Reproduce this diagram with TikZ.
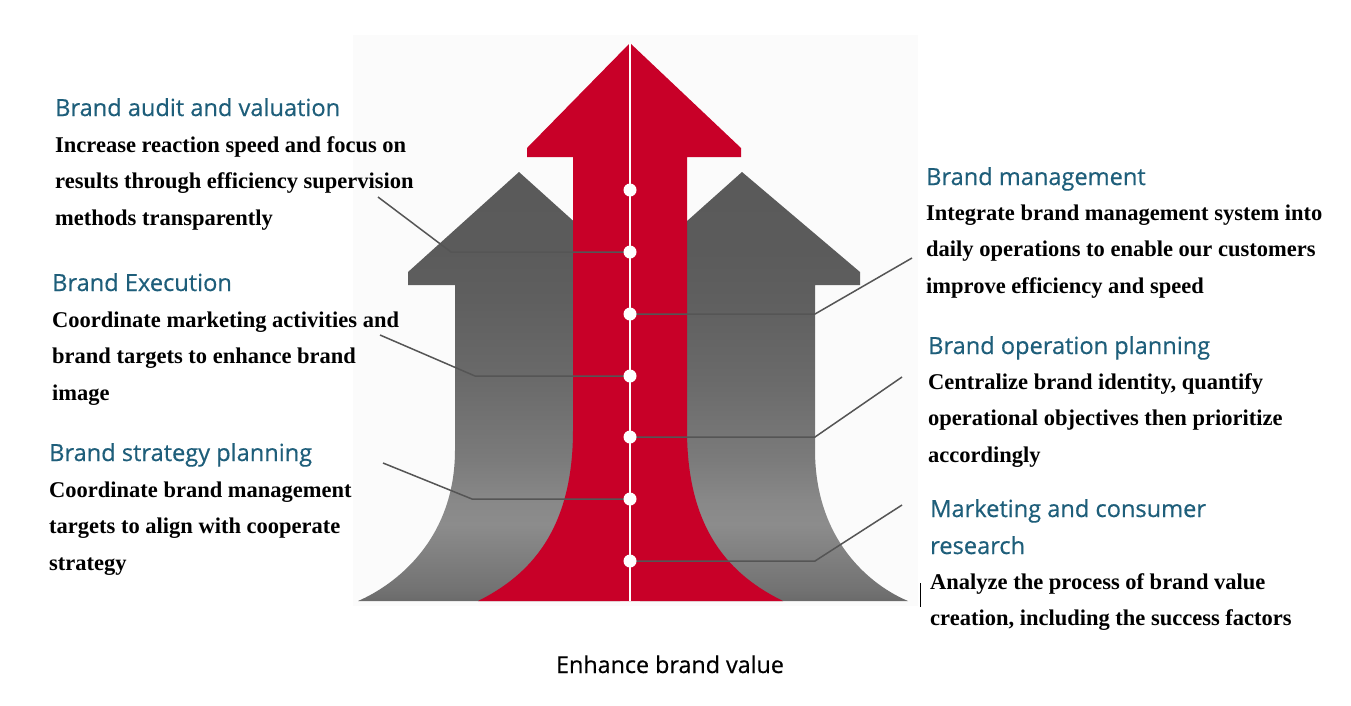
\documentclass[tikz,border=0pt]{standalone}
\usepackage{fontspec}
\setmainfont{Liberation Serif}
\newfontfamily\titlefont[FakeBold=0.5]{Open Sans}
\definecolor{titleblue}{RGB}{30,94,122}
\definecolor{arrowred}{RGB}{200,0,40}
\definecolor{linegray}{RGB}{85,85,85}
\definecolor{bgfaint}{RGB}{251,251,251}
\definecolor{gA}{HTML}{6A6A6A}
\definecolor{gB}{HTML}{727272}
\definecolor{gC}{HTML}{7E7E7E}
\definecolor{gD}{HTML}{8C8C8C}
\definecolor{gE}{HTML}{888888}
\definecolor{gF}{HTML}{7B7B7B}
\definecolor{gG}{HTML}{6A6A6A}
\definecolor{gH}{HTML}{5F5F5F}
\definecolor{gI}{HTML}{5B5B5B}
\definecolor{gJ}{HTML}{5A5A5A}
\pgfdeclareverticalshading{grayflare}{100bp}{color(0bp)=(gA); color(25bp)=(gA); color(26.3bp)=(gB); color(29.8bp)=(gC); color(33.9bp)=(gD); color(36.8bp)=(gE); color(41.4bp)=(gF); color(50.8bp)=(gG); color(60.1bp)=(gH); color(65.9bp)=(gI); color(75bp)=(gJ); color(100bp)=(gJ)}
\tikzset{
  titletext/.style={anchor=base west, inner sep=0pt, text=titleblue, font=\titlefont\fontsize{23.6}{37}\selectfont},
  bodytext/.style={anchor=base west, inner sep=0pt, align=left, font=\bfseries\fontsize{22.5}{36.5}\selectfont},
  grayarrow/.style={shading=grayflare, draw=none},
  redarrow/.style={fill=arrowred, draw=none},
  connector/.style={draw=linegray, line width=1.5pt},
  dotnode/.style={circle, fill=white, inner sep=0pt, minimum size=13pt},
}
\begin{document}
\begin{tikzpicture}[x=1pt,y=-1pt]
\useasboundingbox (0,0) rectangle (1351,705);
% faint background
\fill[bgfaint] (353,35) rectangle (918,606);
% gray arrows
\path[grayarrow] (519,172) -- (408,272) -- (408,285) -- (455,285) -- (455,450)
  .. controls (455,540) and (395,585) .. (358,601) -- (620,601) -- (620,263) -- cycle;
\path[grayarrow] (742,172) -- (860,272) -- (860,285) -- (815,285) -- (815,450)
  .. controls (815,540) and (870,585) .. (908,601) -- (640,601) -- (640,263) -- cycle;
% red arrow
\path[redarrow] (630,43) -- (741,148) -- (741,157) -- (687,157) -- (687,430)
  .. controls (687,530) and (730,575) .. (783,601) -- (478,601)
  .. controls (530,575) and (573,530) .. (573,430) -- (573,157) -- (527,157) -- (527,148) -- cycle;
% centre line
\coordinate (top) at (630,43);
\coordinate (bottom) at (630,601);
\draw[white, line width=2pt] (top) -- (bottom);
% connector coordinates
\coordinate (s1) at (378,197); \coordinate (e1) at (451,252);
\coordinate (s2) at (380,335); \coordinate (e2) at (475,376);
\coordinate (s3) at (383,463); \coordinate (e3) at (472,499);
\coordinate (s4) at (912,258); \coordinate (e4) at (815,314);
\coordinate (s5) at (902,377); \coordinate (e5) at (815,437);
\coordinate (s6) at (902,505); \coordinate (e6) at (815,561);
% dots
\path (630,190) node[dotnode] (d1) {};
\path (630,252) coordinate (p2) (630,314) coordinate (p3) (630,376) coordinate (p4)
      (630,437) coordinate (p5) (630,499) coordinate (p6) (630,561) coordinate (p7);
\draw[connector] (s1) -- (e1) -- (p2);
\draw[connector] (s2) -- (e2) -- (p4);
\draw[connector] (s3) -- (e3) -- (p6);
\draw[connector] (s4) -- (e4) -- (p3);
\draw[connector] (s5) -- (e5) -- (p5);
\draw[connector] (s6) -- (e6) -- (p7);
\node[dotnode] (d2) at (p2) {};
\node[dotnode] (d3) at (p3) {};
\node[dotnode] (d4) at (p4) {};
\node[dotnode] (d5) at (p5) {};
\node[dotnode] (d6) at (p6) {};
\node[dotnode] (d7) at (p7) {};
% left texts
\node[titletext] (t1) at (55,116) {Brand audit and valuation};
\node[bodytext] (b1) at (55,225) {Increase reaction speed and focus on\\results through efficiency supervision\\methods transparently};
\node[titletext] (t2) at (52,291) {Brand Execution};
\node[bodytext] (b2) at (52,400) {Coordinate marketing activities and\\brand targets to enhance brand\\image};
\node[titletext] (t3) at (49,461) {Brand strategy planning};
\node[bodytext] (b3) at (49,570) {Coordinate brand management\\targets to align with cooperate\\strategy};
% right texts
\node[titletext] (t4) at (926,185) {Brand management};
\node[bodytext] (b4) at (926,293) {Integrate brand management system into\\daily operations to enable our customers\\improve efficiency and speed};
\node[titletext] (t5) at (928,354) {Brand operation planning};
\node[bodytext] (b5) at (928,462) {Centralize brand identity, quantify\\operational objectives then prioritize\\accordingly};
\node[titletext, align=left] (t6) at (930,554) {Marketing and consumer\\research};
\node[bodytext] (b6) at (930,625.5) {Analyze the process of brand value\\creation, including the success factors};
% stray mark
\coordinate (m1) at (920,583); \coordinate (m2) at (920,607);
\draw[black, line width=0.8pt] (m1) -- (m2);
% bottom caption
\node[anchor=base, inner sep=0pt, font=\titlefont\fontsize{23.3}{26}\selectfont] (cap) at (670,673) {Enhance brand value};
\end{tikzpicture}
\end{document}
